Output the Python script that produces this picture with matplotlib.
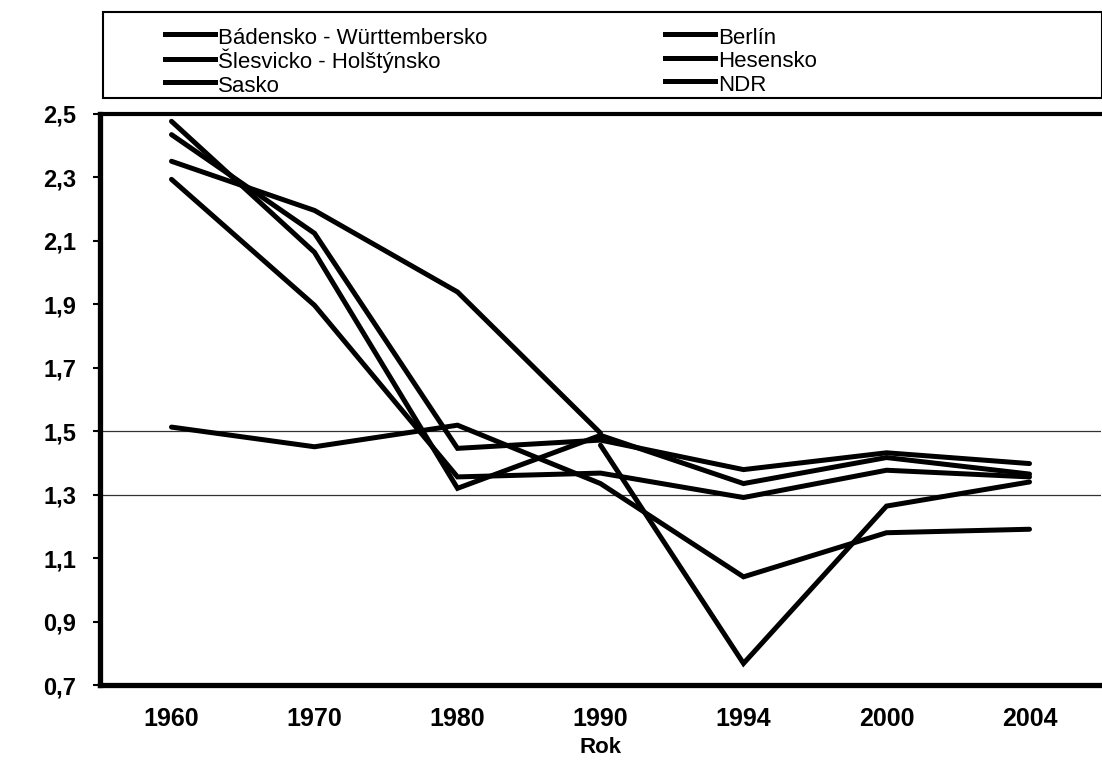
import matplotlib
matplotlib.use("Agg")
import matplotlib.pyplot as plt
from matplotlib.lines import Line2D
from matplotlib.patches import Rectangle
import numpy as np

plt.rcParams['font.family'] = ['Liberation Sans', 'DejaVu Sans']

years = ["1960", "1970", "1980", "1990", "1994", "2000", "2004"]
badensko = [2.435, 2.124, 1.446, 1.472, 1.379, 1.432, 1.398]
slesvicko = [2.477, 2.064, 1.320, 1.487, 1.335, 1.417, 1.365]
sasko = [np.nan, np.nan, np.nan, 1.456, 0.768, 1.264, 1.340]
berlin = [1.513, 1.451, 1.519, 1.335, 1.041, 1.180, 1.191]
hesensko = [2.294, 1.897, 1.356, 1.368, 1.291, 1.377, 1.356]
ndr = [2.351, 2.196, 1.939, 1.494, np.nan, np.nan, np.nan]

labels = ["Bádensko - Württembersko", "Šlesvicko - Holštýnsko", "Sasko",
          "Berlín", "Hesensko", "NDR"]
series = [badensko, slesvicko, sasko, berlin, hesensko, ndr]

yticks = [0.7, 0.9, 1.1, 1.3, 1.5, 1.7, 1.9, 2.1, 2.3, 2.5]
ytick_labels = ["0,7", "0,9", "1,1", "1,3", "1,5", "1,7", "1,9", "2,1", "2,3", "2,5"]
ref_lines = [1.5, 1.3]
xlabel = "Rok"

W, H = 1102, 767
fig = plt.figure(figsize=(W / 100, H / 100), dpi=100)
fig.patch.set_facecolor("white")

left, right, top, bottom = 100, 1101, 114, 685
ax = fig.add_axes([left / W, 1 - bottom / H, (right - left) / W, (bottom - top) / H])

x = np.arange(len(years))
for yv in ref_lines:
    ax.axhline(yv, color="#333333", lw=0.9, zorder=1)

for vals in series:
    ax.plot(x, vals, color="black", lw=3.6, solid_joinstyle="miter",
            solid_capstyle="round", zorder=3)

ax.set_xlim(-0.5, len(years) - 0.5)
ax.set_ylim(0.7, 2.5)
ax.set_xticks(x)
ax.set_xticklabels(years, fontsize=18, fontweight="bold")
ax.set_yticks(yticks)
ax.set_yticklabels(ytick_labels, fontsize=17, fontweight="bold")
ax.tick_params(axis="x", length=0, pad=16)
ax.tick_params(axis="y", length=5, width=1.5, pad=12, direction="out")
ax.set_xlabel(xlabel, fontsize=16, fontweight="bold", labelpad=4)

for s in ["left", "bottom"]:
    ax.spines[s].set_linewidth(3.8)
ax.spines["top"].set_linewidth(3.0)
ax.spines["right"].set_visible(False)

# legend frame
fig.patches.append(Rectangle((103 / W, 1 - 98 / H), (W - 103) / W, (98 - 12) / H,
                             transform=fig.transFigure, fill=False,
                             edgecolor="black", lw=1.5))

handles = [Line2D([], [], color="black", lw=3.6) for _ in series]
fs = 16
common = dict(frameon=False, borderpad=0, borderaxespad=0, handlelength=2.25,
              handleheight=1.15, handletextpad=0.14, labelspacing=0.0,
              fontsize=fs, loc="upper left", bbox_transform=fig.transFigure)
leg1 = fig.legend(handles[:3], labels[:3], bbox_to_anchor=(165 / W, 1 - 25 / H), **common)
leg2 = fig.legend(handles[3:], labels[3:], bbox_to_anchor=(665 / W, 1 - 25 / H), **common)

fig.savefig("out.png", dpi=100, facecolor="white")
